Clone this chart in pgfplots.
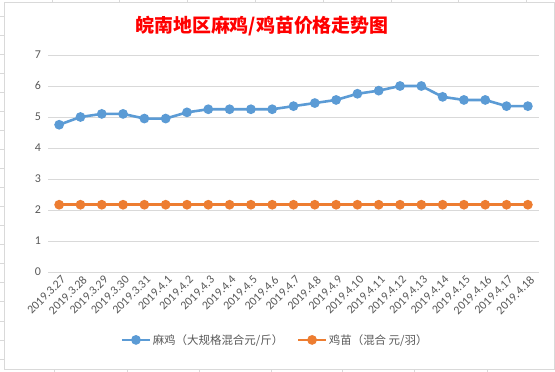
\documentclass[border=0pt]{standalone}
\usepackage{pgfplots}
\pgfplotsset{compat=1.18}
\usepackage{fontspec}
\setmainfont{Carlito}
\newfontfamily\cjk{Noto Sans CJK SC}
\definecolor{sblue}{HTML}{5B9BD5}
\definecolor{sorange}{HTML}{ED7D31}
\definecolor{gridc}{HTML}{D9D9D9}
\definecolor{lab}{HTML}{595959}
\begin{document}
\begin{tikzpicture}
\path[use as bounding box, fill=white] (0bp,0bp) rectangle (555bp,372bp);
\draw[gridc, line width=0.8bp] (4bp,3bp) rectangle (554bp,369.3bp);
\foreach \x in {52,119,187,255,323,391,458,526} \draw[gridc, line width=0.8bp] (\x bp,369.3bp)--(\x bp,372bp);
\foreach \x in {54,127,199,271,342,414,487} \draw[gridc, line width=0.8bp] (\x bp,0bp)--(\x bp,3bp);
\foreach \i in {0,...,18} \draw[gridc, line width=0.8bp] (0bp,{(356-19.06*\i)*1bp}) -- (4bp,{(356-19.06*\i)*1bp});
\begin{axis}[at={(48.5bp,100bp)}, anchor=south west, scale only axis,
  width=490bp, height=217bp,
  xmin=-0.5, xmax=22.5, ymin=0, ymax=7,
  ytick={0,1,2,3,4,5,6,7}, xtick={0,...,22},
  xticklabels={2019.3.27,2019.3.28,2019.3.29,2019.3.30,2019.3.31,2019.4.1,2019.4.2,2019.4.3,2019.4.4,2019.4.5,2019.4.6,2019.4.7,2019.4.8,2019.4.9,2019.4.10,2019.4.11,2019.4.12,2019.4.13,2019.4.14,2019.4.15,2019.4.16,2019.4.17,2019.4.18},
  axis line style={draw=none},
  ymajorgrids, grid style={gridc, line width=0.8bp},
  major tick length=0pt,
  tick label style={font=\fontsize{12}{12}\selectfont, text=lab},
  /pgf/number format/assume math mode=true,
  yticklabel style={xshift=-4bp},
  xticklabel style={rotate=45, anchor=north east, inner sep=1bp, yshift=-2bp},
  legend style={at={(0.462,-0.313)}, anchor=center, draw=none, fill=none,
    legend columns=2, font=\cjk\fontsize{11.5}{11.5}\selectfont, text=lab,
    nodes={inner sep=1.5bp},
    /tikz/every even column/.append style={column sep=12bp}},
  legend image code/.code={\draw[#1, mark repeat=2, mark phase=2] plot coordinates {(0bp,0bp) (14bp,0bp) (28bp,0bp)};},
]
\addplot[sblue, line width=2.6bp, mark=*, mark size=3.5bp, mark options={fill=sblue, draw=none}] coordinates {
(0,4.75) (1,5.0) (2,5.1) (3,5.1) (4,4.95) (5,4.95) (6,5.15) (7,5.25) (8,5.25) (9,5.25) (10,5.25) (11,5.35) (12,5.45) (13,5.55) (14,5.75) (15,5.85) (16,6.0) (17,6.0) (18,5.65) (19,5.55) (20,5.55) (21,5.35) (22,5.35)};
\addlegendentry{麻鸡（大规格混合元/斤）}
\addplot[sorange, line width=2.6bp, mark=*, mark size=3.5bp, mark options={fill=sorange, draw=none}] coordinates {
(0,2.17) (1,2.17) (2,2.17) (3,2.17) (4,2.17) (5,2.17) (6,2.17) (7,2.17) (8,2.17) (9,2.17) (10,2.17) (11,2.17) (12,2.17) (13,2.17) (14,2.17) (15,2.17) (16,2.17) (17,2.17) (18,2.17) (19,2.17) (20,2.17) (21,2.17) (22,2.17)};
\addlegendentry{鸡苗（混合 元/羽）}
\end{axis}
\node[text=red, font=\cjk\bfseries\fontsize{19}{19}\selectfont] at (262bp,346bp) {皖南地区麻鸡/鸡苗价格走势图};
\end{tikzpicture}
\end{document}
